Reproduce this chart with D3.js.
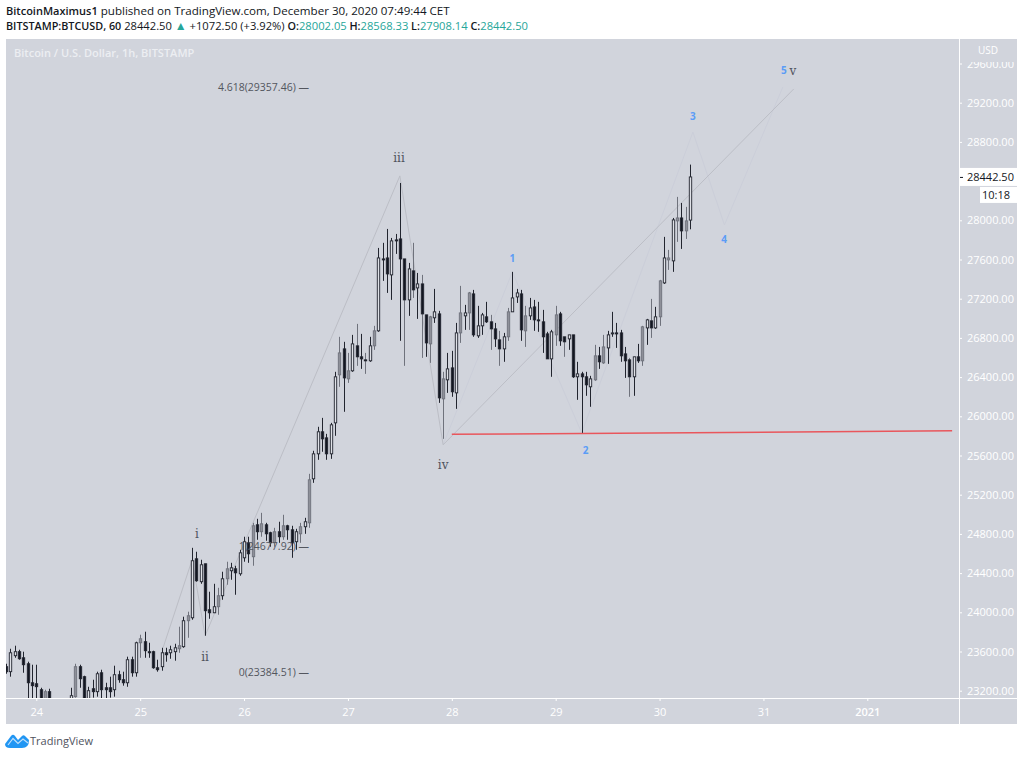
<!DOCTYPE html>
<html>
<head>
<meta charset="utf-8">
<script src="https://cdnjs.cloudflare.com/ajax/libs/d3/7.8.5/d3.min.js"></script>
<style>
  html, body { margin: 0; padding: 0; background: #fff; }
  text { font-family: "Open Sans", "Noto Sans", sans-serif; }
  .axis text { fill: #fff; font-size: 11px; }
  .axis line, .axis path { stroke: #fff; }
</style>
</head>
<body>
<div id="chart"></div>
<script>
// hourly candles, first one is 7 hours before Dec 24 00:00
var firstHour = -7;
var opens = [
  23445,23394,23557,23598,23536,23475,23281,23271,23210,23108,
  23190,23090,23040,23000,23060,23020,23139,23445,23343,23100,
  23220,23190,23383,23230,23230,23210,23363,23312,23281,23516,
  23383,23689,23700,23598,23598,23434,23445,23587,23587,23598,
  23628,23649,23914,23944,24546,24312,24495,24026,23995,24057,
  24169,24342,24424,24444,24393,24556,24709,24567,24893,24822,
  24893,24812,24709,24822,24771,24883,24842,24720,24801,24873,
  24913,25362,25617,25842,25780,25617,25933,26423,26688,26382,
  26464,26719,26607,26576,26566,26719,26872,27606,27616,27443,
  27800,27810,27606,27188,27484,27310,27351,27035,26739,27005,
  27045,26178,26372,26494,26239,26851,27025,27055,27249,26821,
  26923,27015,26964,26892,26780,26688,26811,27066,27218,27249,
  26872,27025,27116,26984,26964,26841,26586,26831,27045,26811,
  26790,26831,26403,26433,26403,26301,26372,26617,26545,26698,
  26841,26851,26851,26637,26576,26403,26607,26566,26902,26974,
  26902,27015,27361,27596,27586,27994,28024,27892,28002.05
];
var highs = [
  23475,23628,23659,23618,23598,23496,23465,23465,23230,23210,
  23220,23120,23110,23100,23110,23230,23475,23465,23353,23240,
  23312,23394,23414,23281,23343,23455,23404,23394,23547,23547,
  23700,23771,23802,23689,23608,23516,23638,23638,23659,23679,
  23853,23955,24006,24658,24618,24536,24495,24210,24291,24250,
  24414,24516,24505,24475,24638,24771,24771,24913,24954,25015,
  24913,24822,24862,24924,24995,24893,24883,24852,24913,24964,
  25413,25648,25893,25984,25821,25933,26454,26811,26760,26647,
  26831,26943,26841,26647,26811,26923,27718,27770,27912,27820,
  27861,28381,27606,27565,27770,27463,27443,27035,27025,27300,
  27076,26454,26647,26668,26953,27331,27137,27269,27290,27127,
  27055,27168,27035,26953,26872,26851,27106,27474,27300,27290,
  27127,27208,27188,27168,27086,26862,26882,27127,27066,26811,
  26831,26831,26556,26454,26454,26413,26729,26708,26831,26872,
  27066,26953,26882,26708,26596,26607,26739,26923,26994,27198,
  27117,27392,27831,27698,28024,28239,28177,28137,28568.33
];
var lows = [
  23373,23343,23536,23516,23383,23057,23057,23057,23090,23090,
  23090,23000,22980,22950,22990,23000,23129,23230,23090,23090,
  23129,23139,23110,23118,23129,23139,23281,23251,23240,23343,
  23343,23536,23536,23536,23424,23394,23404,23496,23526,23506,
  23587,23638,23740,23924,24312,24291,23761,23934,23995,23975,
  24128,24281,24332,24179,24373,24516,24505,24475,24740,24771,
  24730,24669,24669,24709,24740,24740,24556,24638,24709,24801,
  24862,25321,25556,25638,25556,25566,25801,26301,26046,26341,
  26454,26515,26484,26433,26556,26678,26862,27382,27259,27188,
  27657,26770,26515,27025,27208,26994,26596,26607,26545,26953,
  26137,25770,26239,26199,26076,26749,26882,26882,26811,26800,
  26831,26953,26678,26708,26515,26556,26770,27066,27157,26770,
  26708,26984,26872,26862,26647,26586,26403,26719,26719,26607,
  26678,26392,26168,25831,26209,26097,26362,26484,26535,26535,
  26811,26698,26556,26392,26199,26209,26545,26515,26729,26800,
  26892,26923,27351,27494,27474,27780,27708,27810,27908.14
];
var closes = [
  23394,23587,23598,23526,23465,23281,23251,23241,23108,23190,
  23108,23040,23000,23060,23020,23149,23445,23322,23100,23200,
  23190,23373,23210,23210,23190,23363,23312,23281,23516,23383,
  23689,23730,23608,23587,23434,23414,23587,23567,23618,23638,
  23659,23914,23965,24526,24322,24485,24016,23995,24057,24169,
  24342,24444,24454,24403,24607,24720,24597,24883,24822,24903,
  24801,24709,24822,24771,24883,24842,24709,24822,24873,24924,
  25352,25617,25842,25770,25617,25913,26403,26647,26392,26464,
  26739,26607,26586,26566,26719,26872,27616,27596,27453,27790,
  27790,27606,27188,27504,27290,27351,27045,26749,27015,27066,
  26188,26382,26484,26250,26851,27055,27055,27259,26831,26923,
  27035,26964,26892,26790,26688,26811,27066,27208,27259,26882,
  27025,27106,26984,26974,26811,26586,26862,27035,26770,26760,
  26831,26403,26433,26403,26321,26382,26617,26556,26708,26831,
  26851,26841,26617,26566,26403,26607,26566,26913,26984,26902,
  27015,27382,27616,27616,28004,28024,27892,27994,28442.5
];
// hours of the candles that look washed out in the picture
var mutedHours = [2,9,24,33,35,42,44,50,52,55,57,61,63,70,72,74,76,78,85,87,89,91,94,98,100,
  105,107,109,113,120,122,129,131,137,140,142,144,146,148,150];

var dayHours = [0,24,48,72,96,120,144,168,192];
var dayLabels = ["24","25","26","27","28","29","30","31","2021"];
// 28400 is hidden behind the last price tag
var priceTicks = [23200,23600,24000,24400,24800,25200,25600,26000,26400,26800,27200,27600,28000,28800,29200,29600];

// elliott waves, hour + price
var mainWaveHours = [29.3,36,39,84,94,175];
var mainWavePrices = [23640,24535,23761,28453,25709,29340];
var subWaveHours = [94,110,126,151.7,159,172.5];
var subWavePrices = [25709,27474,25831,28900,27953,29361];
var mainLabels = ["i","ii","iii","iv","v"];
var mainLabelHours = [37.1,39,83.8,94,174.8];
var mainLabelPrices = [24801,23547,28636,25505,29524];
var subLabels = ["1","2","3","4","5"];
var subLabelHours = [110,126.9,151.7,158.9,172.7];
var subLabelPrices = [27606,25648,29055,27800,29524];

var supportHours = [96,211.6];
var supportPrices = [25816,25852];

var fibTexts = ["4.618(29357.46) —","1(24677.92) —","0(23384.51) —"];
var fibPrices = [29357.46,24677.92,23384.51];
var fibEndHour = 63;

var lastPrice = 28442.5;

var width = 1024, height = 757;
var plot = {left: 6, right: 959, top: 39, bottom: 698, outer: 1017, foot: 724};

var x = d3.scaleLinear().domain([0,192]).range([36.3,867.3]);
var y = d3.scaleLinear().domain([23200,29600]).range([690.7,63.5]);

var svg = d3.select("#chart").append("svg")
    .attr("width",width)
    .attr("height",height)
    .style("display","block");

svg.append("defs").append("clipPath").attr("id","plotClip")
  .append("rect")
    .attr("x",plot.left)
    .attr("y",plot.top)
    .attr("width",plot.right-plot.left)
    .attr("height",plot.bottom-plot.top);

svg.append("rect")
    .attr("x",plot.left)
    .attr("y",plot.top)
    .attr("width",plot.outer-plot.left)
    .attr("height",plot.foot-plot.top)
    .attr("fill","#d1d4dc");

// header
var head = svg.append("g").attr("font-size","11.6px").attr("fill","#131722");
var line1 = head.append("text").attr("x",6).attr("y",15);
line1.append("tspan").attr("font-weight",600).attr("font-size","11px").text("BitcoinMaximus1");
line1.append("tspan").text(" published on TradingView.com, December 30, 2020 07:49:44 CET");

var line2 = head.append("text").attr("x",6).attr("y",30).attr("font-size","11.2px");
line2.append("tspan").attr("font-weight",600).attr("font-size","10.8px").text("BITSTAMP:BTCUSD, 60");
line2.append("tspan").text("  28442.50 ");
line2.append("tspan").attr("fill","#26a69a").attr("font-size","12px").text("▲");
line2.append("tspan").text(" +1072.50 (+3.92%) ");
[["O:","28002.05"],["H:","28568.33"],["L:","27908.14"],["C:","28442.50"]].forEach(function(p){
    line2.append("tspan").attr("font-weight",600).attr("font-size","10.8px").text(" "+p[0]);
    line2.append("tspan").attr("fill","#26a69a").text(p[1]);
});

// watermark
svg.append("text")
    .attr("x",14)
    .attr("y",57)
    .attr("font-size","11px")
    .attr("font-weight",600)
    .attr("fill","#eceef2")
    .text("Bitcoin / U.S. Dollar, 1h, BITSTAMP");

// axes
var xAxis = d3.axisBottom(x)
    .tickValues(dayHours)
    .tickFormat(function(d,i){ return dayLabels[i]; })
    .tickSize(3)
    .tickPadding(7);
var xG = svg.append("g")
    .attr("class","axis")
    .attr("transform",`translate(0,${plot.bottom})`)
    .call(xAxis);
xG.select(".domain").remove();
xG.selectAll("text").attr("font-weight",function(d){ return d==192 ? 600 : 400; });

svg.append("line")
    .attr("x1",plot.left).attr("x2",plot.outer)
    .attr("y1",plot.bottom+.5).attr("y2",plot.bottom+.5)
    .attr("stroke","#fff");
svg.append("line")
    .attr("x1",plot.right+.5).attr("x2",plot.right+.5)
    .attr("y1",plot.top).attr("y2",plot.foot)
    .attr("stroke","#fff");

var yAxis = d3.axisRight(y)
    .tickValues(priceTicks)
    .tickFormat(d3.format(".2f"))
    .tickSize(3)
    .tickPadding(5);
var yG = svg.append("g")
    .attr("class","axis")
    .attr("transform",`translate(${plot.right},0)`)
    .call(yAxis);
yG.select(".domain").remove();

// the USD tag sits on top of the 29600 label
svg.append("rect")
    .attr("x",plot.right+1).attr("y",plot.top)
    .attr("width",plot.outer-plot.right-1).attr("height",23)
    .attr("fill","#d1d4dc");
svg.append("text")
    .attr("x",988).attr("y",54)
    .attr("text-anchor","middle")
    .attr("font-size","10px")
    .attr("fill","#fff")
    .text("USD");

// chart area
var chart = svg.append("g").attr("clip-path","url(#plotClip)");

var mainLine = d3.line()
    .x(function(d){ return x(mainWaveHours[d]); })
    .y(function(d){ return y(mainWavePrices[d]); });
var subLine = d3.line()
    .x(function(d){ return x(subWaveHours[d]); })
    .y(function(d){ return y(subWavePrices[d]); });

chart.append("path")
    .attr("d",subLine(d3.range(subWaveHours.length)))
    .attr("fill","none")
    .attr("stroke","#cbced9")
    .attr("stroke-width",1);
chart.append("path")
    .attr("d",mainLine(d3.range(mainWaveHours.length)))
    .attr("fill","none")
    .attr("stroke","#bcbec6")
    .attr("stroke-width",1);

chart.append("line")
    .attr("x1",x(supportHours[0])).attr("y1",y(supportPrices[0]))
    .attr("x2",x(supportHours[1])).attr("y2",y(supportPrices[1]))
    .attr("stroke","#e9565c")
    .attr("stroke-width",1.5);

// candles
var candles = d3.range(opens.length).map(function(i){
    var h = firstHour+i;
    return {hour:h, o:opens[i], h:highs[i], l:lows[i], c:closes[i],
            muted: mutedHours.indexOf(h)>=0,
            px: Math.round(x(h))+.5};
});

var candle = chart.selectAll("g.candle")
    .data(candles)
    .enter()
    .append("g")
    .attr("class","candle");

candle.append("line")
    .attr("x1",function(d){ return d.px; })
    .attr("x2",function(d){ return d.px; })
    .attr("y1",function(d){ return y(d.h); })
    .attr("y2",function(d){ return y(d.l); })
    .attr("stroke",function(d){ return d.muted ? "#6f727c" : "#22252f"; });

candle.append("rect")
    .attr("x",function(d){ return d.px-1.2; })
    .attr("width",2.4)
    .attr("y",function(d){ return y(Math.max(d.o,d.c)); })
    .attr("height",function(d){ return Math.max(1,Math.abs(y(d.o)-y(d.c))); })
    .attr("stroke-width",.9)
    .attr("stroke",function(d){
        if (d.c>=d.o && d.muted) return "#6f727c";
        return "#22252f";
    })
    .attr("fill",function(d){
        if (d.c<d.o) return "#131722";
        return d.muted ? "#8e9099" : "#dfe1e7";
    });

// fib levels
svg.selectAll("text.fib")
    .data(fibTexts)
    .enter()
    .append("text")
    .attr("class","fib")
    .attr("x",x(fibEndHour))
    .attr("y",function(d,i){ return y(fibPrices[i]); })
    .attr("dy","0.35em")
    .attr("text-anchor","end")
    .attr("font-size","10.5px")
    .attr("fill","#53565e")
    .text(function(d){ return d; });

// wave labels
svg.selectAll("text.mainLabel")
    .data(mainLabels)
    .enter()
    .append("text")
    .attr("class","mainLabel")
    .attr("x",function(d,i){ return x(mainLabelHours[i]); })
    .attr("y",function(d,i){ return y(mainLabelPrices[i]); })
    .attr("dy","0.35em")
    .attr("text-anchor","middle")
    .attr("font-size","12px")
    .attr("fill","#50535e")
    .style("font-family","'DejaVu Serif', serif")
    .text(function(d){ return d; });

svg.selectAll("text.subLabel")
    .data(subLabels)
    .enter()
    .append("text")
    .attr("class","subLabel")
    .attr("x",function(d,i){ return x(subLabelHours[i]); })
    .attr("y",function(d,i){ return y(subLabelPrices[i]); })
    .attr("dy","0.35em")
    .attr("text-anchor","middle")
    .attr("font-size","10px")
    .attr("font-weight",700)
    .attr("fill","#5b9cf6")
    .text(function(d){ return d; });

// last price tag
svg.append("rect")
    .attr("x",plot.right+1).attr("y",y(lastPrice)-9)
    .attr("width",plot.outer-plot.right-1).attr("height",18)
    .attr("fill","#fff");
svg.append("line")
    .attr("x1",plot.right+1).attr("x2",plot.right+4)
    .attr("y1",y(lastPrice)+.5).attr("y2",y(lastPrice)+.5)
    .attr("stroke","#131722");
svg.append("text")
    .attr("x",plot.right+8).attr("y",y(lastPrice))
    .attr("dy","0.35em")
    .attr("font-size","11px")
    .attr("fill","#131722")
    .text(d3.format(".2f")(lastPrice));
svg.append("rect")
    .attr("x",980).attr("y",y(lastPrice)+10)
    .attr("width",plot.outer-980).attr("height",16)
    .attr("fill","#fff");
svg.append("text")
    .attr("x",1010).attr("y",y(lastPrice)+18)
    .attr("dy","0.35em")
    .attr("text-anchor","end")
    .attr("font-size","11px")
    .attr("fill","#131722")
    .text("10:18");

// logo
var logo = svg.append("g").attr("transform","translate(5,733)");
logo.append("path")
    .attr("d","M0,11 L6,3 Q8,0.5 10,3 L13,7 L17,3 Q18.5,1.5 20,3 L24,7 Q24,15 17,15 L5,15 Q0,15 0,11 Z")
    .attr("fill","#2196f3");
logo.append("path")
    .attr("d","M3,12 L8,5.5 L13,10.5 L18,6 L23,10")
    .attr("fill","none")
    .attr("stroke","#bfe0fb")
    .attr("stroke-width",1.2);
svg.append("text")
    .attr("x",30).attr("y",745)
    .attr("font-size","11px")
    .attr("fill","#50535e")
    .text("TradingView");
</script>
</body>
</html>
